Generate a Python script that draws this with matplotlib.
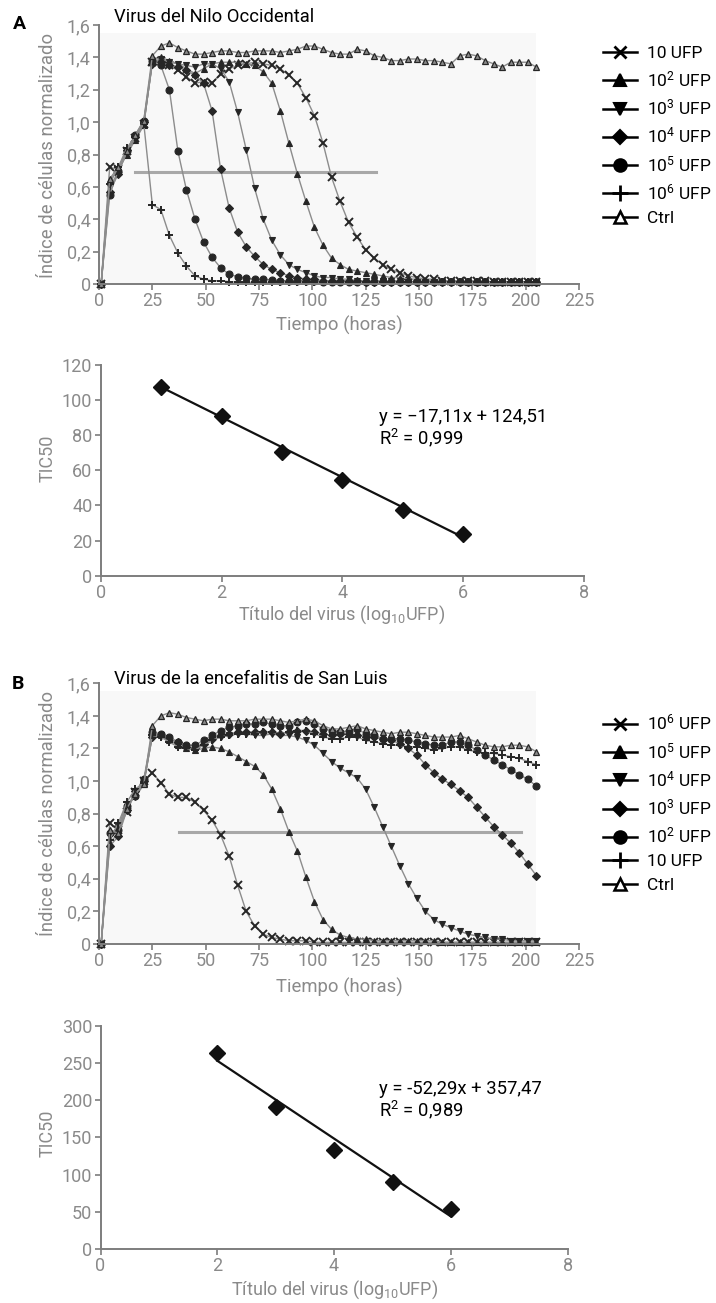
import matplotlib
matplotlib.use("Agg")
import matplotlib.pyplot as plt
from matplotlib.lines import Line2D

plt.rcParams["font.family"] = ["Roboto", "DejaVu Sans"]

# time grid (hours) shared by all curves
hours = [1, 5, 9, 13, 17, 21, 25, 29, 33, 37, 41, 45, 49, 53, 57, 61, 65, 69,
         73, 77, 81, 85, 89, 93, 97, 101, 105, 109, 113, 117, 121, 125, 129,
         133, 137, 141, 145, 149, 153, 157, 161, 165, 169, 173, 177, 181, 185,
         189, 193, 197, 201, 205]

# Panel A - Virus del Nilo Occidental (normalised cell index)
wnv_10 = [0.0, 0.72, 0.71, 0.82, 0.90, 0.99, 1.37, 1.38, 1.35, 1.32, 1.28,
          1.24, 1.25, 1.24, 1.30, 1.33, 1.35, 1.36, 1.37, 1.36, 1.35, 1.33,
          1.29, 1.24, 1.15, 1.04, 0.87, 0.66, 0.51, 0.38, 0.29, 0.21, 0.16,
          0.12, 0.09, 0.07, 0.05, 0.04, 0.03, 0.03, 0.02, 0.02, 0.02, 0.02,
          0.02, 0.02, 0.01, 0.01, 0.01, 0.01, 0.01, 0.01]
wnv_1e2 = [0.0, 0.64, 0.70, 0.80, 0.89, 0.98, 1.38, 1.40, 1.38, 1.36, 1.33,
           1.30, 1.33, 1.36, 1.37, 1.37, 1.37, 1.36, 1.35, 1.31, 1.24, 1.07,
           0.87, 0.68, 0.51, 0.35, 0.24, 0.16, 0.12, 0.09, 0.08, 0.07, 0.06,
           0.05, 0.04, 0.04, 0.03, 0.03, 0.02, 0.02, 0.02, 0.02, 0.02, 0.01,
           0.01, 0.01, 0.01, 0.01, 0.01, 0.01, 0.01, 0.01]
wnv_1e3 = [0.0, 0.60, 0.69, 0.81, 0.90, 0.99, 1.37, 1.39, 1.37, 1.36, 1.35,
           1.34, 1.36, 1.36, 1.33, 1.25, 1.06, 0.83, 0.59, 0.40, 0.27, 0.18,
           0.12, 0.09, 0.07, 0.05, 0.04, 0.04, 0.03, 0.03, 0.02, 0.02, 0.02,
           0.02, 0.02, 0.02, 0.01, 0.01, 0.01, 0.01, 0.01, 0.01, 0.01, 0.01,
           0.01, 0.01, 0.01, 0.01, 0.01, 0.01, 0.01, 0.01]
wnv_1e4 = [0.0, 0.57, 0.68, 0.83, 0.91, 1.00, 1.36, 1.37, 1.35, 1.34, 1.32,
           1.29, 1.24, 1.07, 0.71, 0.47, 0.32, 0.23, 0.17, 0.12, 0.09, 0.07,
           0.05, 0.04, 0.03, 0.03, 0.02, 0.02, 0.02, 0.02, 0.02, 0.01, 0.01,
           0.01, 0.01, 0.01, 0.01, 0.01, 0.01, 0.01, 0.01, 0.01, 0.01, 0.01,
           0.01, 0.01, 0.01, 0.01, 0.01, 0.01, 0.01, 0.01]
wnv_1e5 = [0.0, 0.55, 0.70, 0.82, 0.92, 1.01, 1.38, 1.35, 1.20, 0.82, 0.58,
           0.40, 0.26, 0.165, 0.10, 0.06, 0.045, 0.035, 0.03, 0.03, 0.025,
           0.02, 0.02, 0.02, 0.02, 0.02, 0.015, 0.01, 0.01, 0.01, 0.01, 0.01,
           0.01, 0.01, 0.01, 0.01, 0.01, 0.01, 0.01, 0.01, 0.01, 0.01, 0.01,
           0.01, 0.01, 0.01, 0.01, 0.01, 0.01, 0.01, 0.01, 0.01]
wnv_1e6 = [0.0, 0.62, 0.72, 0.84, 0.91, 0.99, 0.49, 0.46, 0.30, 0.19, 0.11,
           0.05, 0.03, 0.02, 0.02, 0.015, 0.01, 0.01, 0.01, 0.01, 0.01, 0.01,
           0.01, 0.01, 0.01, 0.01, 0.01, 0.01, 0.01, 0.01, 0.01, 0.01, 0.01,
           0.01, 0.01, 0.01, 0.01, 0.01, 0.01, 0.01, 0.01, 0.01, 0.01, 0.01,
           0.01, 0.01, 0.01, 0.01, 0.01, 0.01, 0.01, 0.01]
wnv_ctrl = [0.0, 0.65, 0.72, 0.82, 0.92, 1.01, 1.41, 1.47, 1.49, 1.46, 1.44,
            1.42, 1.42, 1.43, 1.44, 1.44, 1.43, 1.43, 1.44, 1.44, 1.44, 1.43,
            1.44, 1.45, 1.47, 1.47, 1.45, 1.43, 1.42, 1.42, 1.45, 1.44, 1.41,
            1.40, 1.38, 1.38, 1.39, 1.39, 1.38, 1.38, 1.37, 1.36, 1.41, 1.42,
            1.41, 1.38, 1.36, 1.34, 1.37, 1.37, 1.37, 1.34]

# Panel B - Virus de la encefalitis de San Luis
slev_1e6 = [0.0, 0.74, 0.70, 0.81, 0.93, 1.00, 1.05, 0.99, 0.92, 0.90, 0.90,
            0.87, 0.82, 0.76, 0.67, 0.54, 0.36, 0.20, 0.11, 0.06, 0.04, 0.03,
            0.02, 0.02, 0.02, 0.01, 0.01, 0.01, 0.01, 0.01, 0.01, 0.01, 0.01,
            0.01, 0.01, 0.01, 0.01, 0.01, 0.01, 0.01, 0.01, 0.01, 0.01, 0.01,
            0.01, 0.01, 0.01, 0.01, 0.01, 0.01, 0.01, 0.01]
slev_1e5 = [0.0, 0.62, 0.68, 0.84, 0.92, 0.99, 1.29, 1.28, 1.25, 1.22, 1.20,
            1.19, 1.20, 1.21, 1.20, 1.18, 1.15, 1.12, 1.09, 1.04, 0.95, 0.83,
            0.69, 0.57, 0.41, 0.26, 0.15, 0.09, 0.055, 0.04, 0.03, 0.03, 0.02,
            0.02, 0.02, 0.02, 0.02, 0.02, 0.02, 0.02, 0.01, 0.01, 0.01, 0.01,
            0.01, 0.01, 0.01, 0.01, 0.01, 0.01, 0.01, 0.01]
slev_1e4 = [0.0, 0.66, 0.72, 0.86, 0.90, 0.98, 1.28, 1.28, 1.25, 1.23, 1.21,
            1.20, 1.22, 1.25, 1.27, 1.28, 1.29, 1.29, 1.28, 1.28, 1.29, 1.28,
            1.28, 1.27, 1.25, 1.22, 1.17, 1.12, 1.08, 1.05, 1.02, 0.95, 0.84,
            0.72, 0.60, 0.48, 0.37, 0.28, 0.20, 0.15, 0.12, 0.10, 0.08, 0.06,
            0.05, 0.04, 0.03, 0.03, 0.02, 0.02, 0.02, 0.02]
slev_1e3 = [0.0, 0.60, 0.66, 0.82, 0.94, 1.00, 1.27, 1.28, 1.26, 1.24, 1.21,
            1.20, 1.23, 1.26, 1.28, 1.29, 1.30, 1.30, 1.30, 1.30, 1.30, 1.29,
            1.30, 1.31, 1.31, 1.30, 1.29, 1.28, 1.29, 1.29, 1.28, 1.27, 1.27,
            1.26, 1.25, 1.23, 1.20, 1.16, 1.10, 1.05, 1.01, 0.98, 0.94, 0.90,
            0.84, 0.78, 0.72, 0.67, 0.62, 0.56, 0.49, 0.42]
slev_1e2 = [0.0, 0.68, 0.70, 0.85, 0.91, 1.01, 1.30, 1.29, 1.27, 1.24, 1.22,
            1.22, 1.25, 1.28, 1.31, 1.33, 1.34, 1.35, 1.35, 1.36, 1.35, 1.34,
            1.34, 1.36, 1.37, 1.35, 1.32, 1.31, 1.30, 1.31, 1.32, 1.29, 1.28,
            1.26, 1.26, 1.26, 1.25, 1.24, 1.23, 1.22, 1.22, 1.24, 1.24, 1.22,
            1.19, 1.16, 1.13, 1.10, 1.07, 1.04, 1.01, 0.97]
slev_10 = [0.0, 0.64, 0.74, 0.87, 0.95, 0.99, 1.28, 1.27, 1.24, 1.21, 1.20,
           1.19, 1.22, 1.25, 1.27, 1.28, 1.29, 1.29, 1.29, 1.30, 1.30, 1.29,
           1.30, 1.31, 1.31, 1.29, 1.27, 1.26, 1.26, 1.27, 1.27, 1.25, 1.24,
           1.23, 1.22, 1.22, 1.21, 1.21, 1.20, 1.19, 1.20, 1.21, 1.21, 1.19,
           1.18, 1.17, 1.17, 1.16, 1.15, 1.14, 1.12, 1.10]
slev_ctrl = [0.0, 0.70, 0.68, 0.83, 0.92, 0.98, 1.34, 1.40, 1.42, 1.41, 1.39,
             1.38, 1.37, 1.38, 1.38, 1.37, 1.37, 1.37, 1.38, 1.38, 1.38, 1.37,
             1.36, 1.37, 1.38, 1.37, 1.34, 1.32, 1.32, 1.33, 1.34, 1.32, 1.31,
             1.30, 1.29, 1.30, 1.30, 1.29, 1.28, 1.27, 1.27, 1.27, 1.28, 1.26,
             1.24, 1.22, 1.21, 1.21, 1.22, 1.22, 1.21, 1.18]

# 50% threshold line (start/end hours)
thr_y = 0.69
thr_a = [17, 130]
thr_b = [37.5, 198]

legend_a = ["10 UFP", r"$\mathregular{10^2}$ UFP", r"$\mathregular{10^3}$ UFP",
            r"$\mathregular{10^4}$ UFP", r"$\mathregular{10^5}$ UFP",
            r"$\mathregular{10^6}$ UFP", "Ctrl"]
legend_b = [r"$\mathregular{10^6}$ UFP", r"$\mathregular{10^5}$ UFP",
            r"$\mathregular{10^4}$ UFP", r"$\mathregular{10^3}$ UFP",
            r"$\mathregular{10^2}$ UFP", "10 UFP", "Ctrl"]

ci_ticks = [0, 0.2, 0.4, 0.6, 0.8, 1.0, 1.2, 1.4, 1.6]
ci_ticklabels = ["0", "0,2", "0,4", "0,6", "0,8", "1,0", "1,2", "1,4", "1,6"]
hour_ticks = [0, 25, 50, 75, 100, 125, 150, 175, 200, 225]

# TIC50 vs titre
titer_a = [1, 2, 3, 4, 5, 6]
tic50_a = [107.3, 91.1, 70.6, 54.5, 37.4, 23.7]
fit_a = (-17.11, 124.51)
titer_b = [2, 3, 4, 5, 6]
tic50_b = [263.7, 191.2, 133.0, 89.6, 53.7]
fit_b = (-52.29, 357.47)

GREY = "#7d7d7d"
LABEL = "#8a8a8a"
LINE = "#8c8c8c"
MARK = "#262626"

# marker, size, face colour, edge width
styles = [("x", 5.5, MARK, 1.4), ("^", 5, MARK, 0.8), ("v", 5, MARK, 0.8),
          ("D", 4.3, MARK, 0.8), ("o", 5, MARK, 0.8), ("+", 6, MARK, 1.4),
          ("^", 4.5, "#8a8a8a", 0.9)]
leg_styles = [("x", 9, "black", 2.0), ("^", 8, "black", 1.5),
              ("v", 8, "black", 1.5), ("D", 7, "black", 1.5),
              ("o", 9, "black", 1.5), ("+", 12, "black", 2.0),
              ("^", 9, "white", 1.8)]


def W(x):
    return x / 716


def H(y):
    return 1 - y / 1303


def style_axes(ax):
    for side in ["top", "right"]:
        ax.spines[side].set_visible(False)
    for side in ["left", "bottom"]:
        ax.spines[side].set_color(GREY)
        ax.spines[side].set_linewidth(1.4)
    ax.tick_params(direction="out", length=4, width=1.2, color=GREY,
                   labelcolor=LABEL, labelsize=13, pad=2)


def draw_curves(ax, series, thr):
    ax.axvspan(0, hours[-1], ymax=0.97, color="#f8f8f8", zorder=0, lw=0)
    ax.plot(thr, [thr_y, thr_y], color="#a8a8a8", lw=2.2, zorder=1)
    for vals, (m, ms, fc, mw) in zip(series, styles):
        ax.plot(hours, vals, color=LINE, lw=1.0, marker=m, ms=ms, mfc=fc,
                mec=MARK, mew=mw, zorder=2, clip_on=False)
    ax.set_xlim(0, 225)
    ax.set_ylim(0, 1.6)
    ax.set_xticks(hour_ticks)
    ax.set_yticks(ci_ticks)
    ax.set_yticklabels(ci_ticklabels)
    style_axes(ax)


def draw_legend(labels, top):
    handles = [Line2D([], [], color="black", lw=1.8, marker=m, ms=ms, mfc=fc,
                      mec="black", mew=mw) for m, ms, fc, mw in leg_styles]
    fig.legend(handles, labels, loc="upper left",
               bbox_to_anchor=(W(603), H(top)), frameon=False, fontsize=12.5,
               handlelength=1.95, handletextpad=0.6, labelspacing=0.48,
               borderpad=0, borderaxespad=0)


def draw_fit(ax, titer, tic, fit, ymax, yticks):
    xs = [titer[0], titer[-1]]
    ax.plot(xs, [fit[0] * x + fit[1] for x in xs], color="#111111", lw=1.6)
    ax.plot(titer, tic, "D", color="#111111", ms=8, zorder=3)
    ax.set_xlim(0, 8)
    ax.set_ylim(0, ymax)
    ax.set_xticks([0, 2, 4, 6, 8])
    ax.set_yticks(yticks)
    style_axes(ax)


fig = plt.figure(figsize=(7.16, 13.03), dpi=100)

# ---- panel A
ax_a = fig.add_axes([W(99), H(284), W(480), 259 / 1303])
draw_curves(ax_a, [wnv_10, wnv_1e2, wnv_1e3, wnv_1e4, wnv_1e5, wnv_1e6,
                   wnv_ctrl], thr_a)
draw_legend(legend_a, 46)
fig.text(W(19), H(24), "A", fontsize=14, fontweight="bold", ha="center",
         va="center")
fig.text(W(114), H(17), "Virus del Nilo Occidental", fontsize=13.2,
         ha="left", va="center")
fig.text(W(48), H(155), "Índice de células normalizado", fontsize=13.3,
         color=LABEL, rotation=90, ha="center", va="center")
fig.text(W(339), H(325), "Tiempo (horas)", fontsize=13.3, color=LABEL,
         ha="center", va="center")

ax_sa = fig.add_axes([W(100.7), H(575.7), W(483.3), 210.7 / 1303])
draw_fit(ax_sa, titer_a, tic50_a, fit_a, 120, [0, 20, 40, 60, 80, 100, 120])
fig.text(W(379), H(417), "y = −17,11x + 124,51", fontsize=13.3, ha="left",
         va="center")
fig.text(W(379), H(438), r"$\mathregular{R^2}$ = 0,999", fontsize=13.3,
         ha="left", va="center")
fig.text(W(48), H(458), "TIC50", fontsize=13, color=LABEL, rotation=90,
         ha="center", va="center")
fig.text(W(342), H(615),
         r"Título del virus ($\mathregular{log_{10}}$UFP)", fontsize=13,
         color=LABEL, ha="center", va="center")

# ---- panel B
ax_b = fig.add_axes([W(99), H(944), W(480), 260.7 / 1303])
draw_curves(ax_b, [slev_1e6, slev_1e5, slev_1e4, slev_1e3, slev_1e2, slev_10,
                   slev_ctrl], thr_b)
draw_legend(legend_b, 713)
fig.text(W(18), H(684), "B", fontsize=14, fontweight="bold", ha="center",
         va="center")
fig.text(W(114), H(679), "Virus de la encefalitis de San Luis",
         fontsize=13.2, ha="left", va="center")
fig.text(W(48), H(813), "Índice de células normalizado", fontsize=13.3,
         color=LABEL, rotation=90, ha="center", va="center")
fig.text(W(339), H(987), "Tiempo (horas)", fontsize=13.3, color=LABEL,
         ha="center", va="center")

ax_sb = fig.add_axes([W(100.5), H(1249), W(467.2), 223.3 / 1303])
draw_fit(ax_sb, titer_b, tic50_b, fit_b, 300, [0, 50, 100, 150, 200, 250, 300])
fig.text(W(379), H(1089), "y = -52,29x + 357,47", fontsize=13.3, ha="left",
         va="center")
fig.text(W(379), H(1110), r"$\mathregular{R^2}$ = 0,989", fontsize=13.3,
         ha="left", va="center")
fig.text(W(48), H(1133), "TIC50", fontsize=13, color=LABEL, rotation=90,
         ha="center", va="center")
fig.text(W(335), H(1290),
         r"Título del virus ($\mathregular{log_{10}}$UFP)", fontsize=13,
         color=LABEL, ha="center", va="center")

fig.savefig("out.png", dpi=100)
plt.close(fig)
